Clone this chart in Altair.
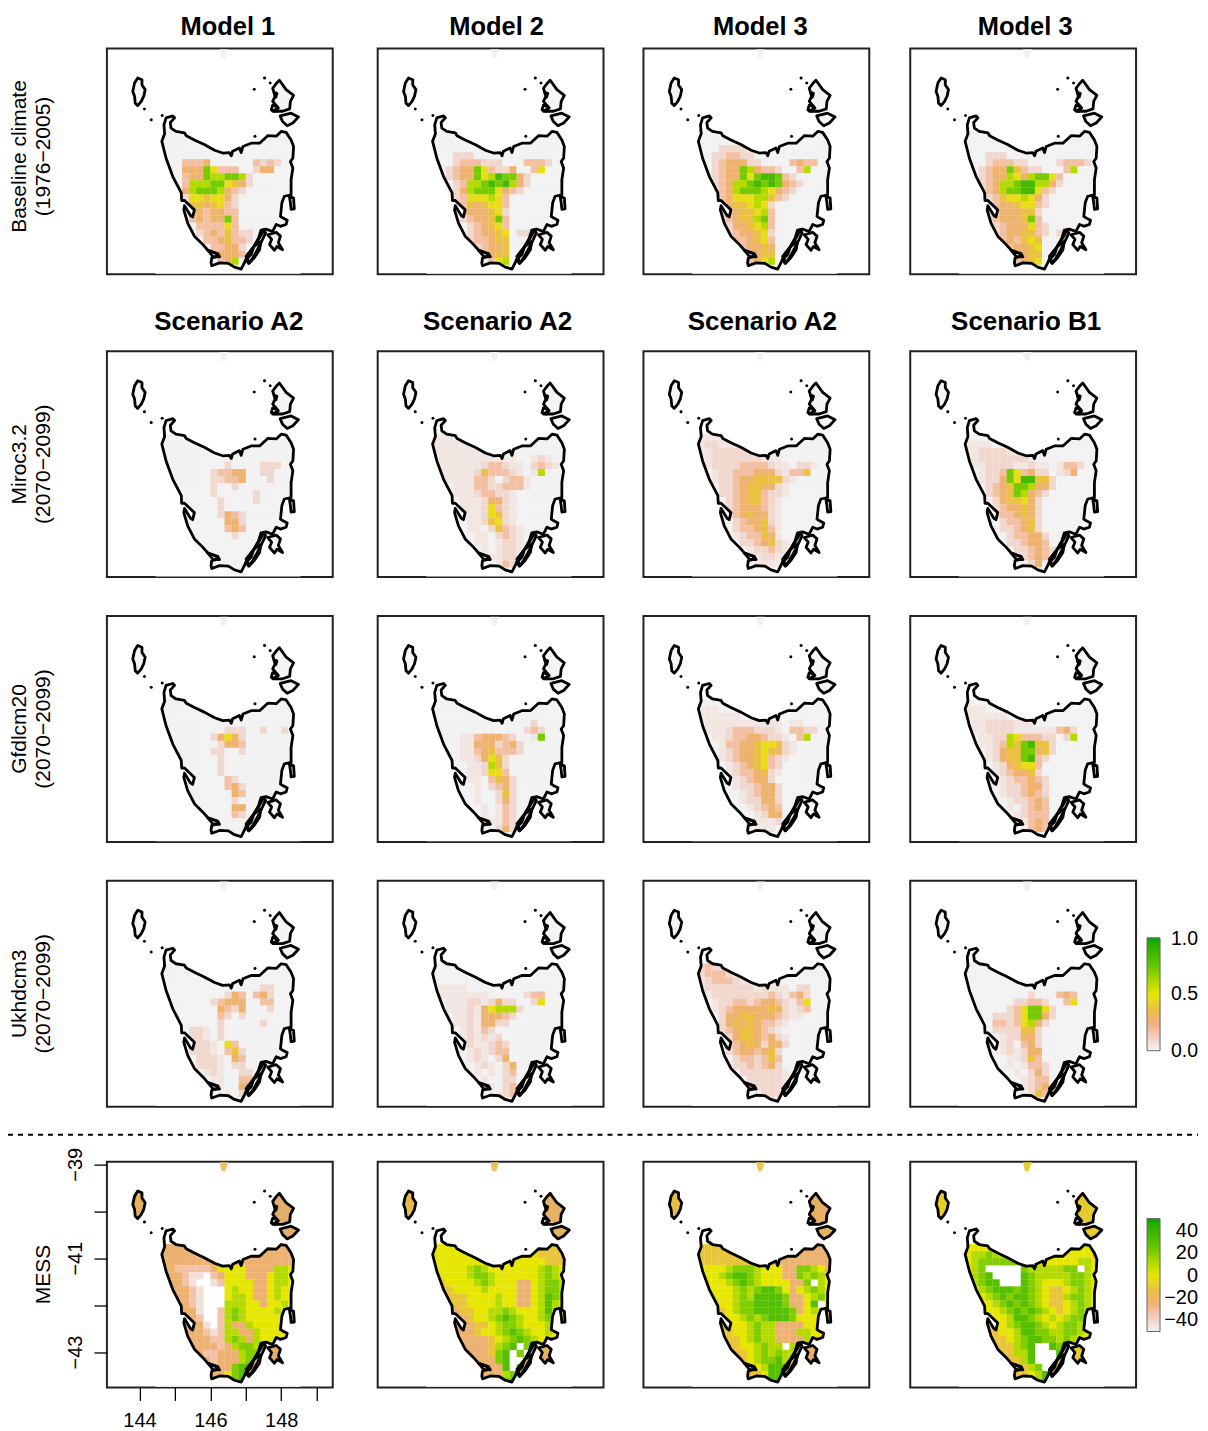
import altair as alt
import pandas as pd

FONT = "Liberation Sans"

# ---- coastline (lon, lat) ----
TAS = [(144.71,-40.76),(144.69,-40.57),(144.75,-40.42),(144.94,-40.38),(144.99,-40.42),(144.87,-40.52),(144.89,-40.64),
(145.03,-40.71),(145.27,-40.74),(145.32,-40.80),(145.55,-40.89),(145.83,-40.99),(146.12,-41.11),(146.35,-41.17),
(146.54,-41.16),(146.59,-41.23),(146.63,-41.13),(146.82,-41.06),(146.87,-41.16),(146.92,-41.03),(147.15,-40.96),
(147.39,-40.96),(147.62,-40.80),(147.86,-40.81),(148.00,-40.71),(148.14,-40.73),(148.28,-40.89),(148.35,-41.03),
(148.33,-41.28),(148.26,-41.35),(148.33,-41.49),(148.28,-41.74),(148.28,-42.06),(148.09,-42.09),(148.02,-42.23),
(147.98,-42.52),(148.04,-42.55),(148.17,-42.60),(148.14,-42.69),(147.98,-42.73),(147.86,-42.69),(147.76,-42.84),
(147.57,-42.79),(147.43,-42.81),(147.36,-42.98),(147.23,-43.16),(147.06,-43.33),(146.96,-43.51),(146.87,-43.64),
(146.68,-43.60),(146.51,-43.52),(146.26,-43.51),(146.04,-43.57),(146.02,-43.51),(146.04,-43.40),(146.23,-43.37),
(146.16,-43.31),(145.93,-43.24),(145.79,-43.12),(145.55,-42.94),(145.36,-42.66),(145.25,-42.38),(145.27,-42.29),
(145.44,-42.50),(145.50,-42.53),(145.55,-42.38),(145.27,-42.18),(145.19,-42.18),(145.18,-42.02),(144.94,-41.67),
(144.75,-41.28),(144.63,-40.92)]
TASMAN = [(147.62,-42.91),(147.86,-42.86),(147.98,-42.94),(147.92,-43.08),(148.04,-43.23),(147.88,-43.16),(147.81,-43.24),(147.67,-43.12),(147.73,-43.01)]
BRUNY = [(147.23,-43.16),(147.43,-43.05),(147.39,-43.23),(147.24,-43.40),(147.10,-43.51),(147.01,-43.37)]
BRUNY2 = [(147.01,-43.44),(147.15,-43.33),(147.23,-43.16),(147.36,-43.01),(147.51,-42.81),(147.56,-42.87),(147.43,-43.08),(147.32,-43.24),(147.20,-43.40),(147.08,-43.52)]
DAVEY = [(145.93,-43.24),(146.21,-43.31),(146.26,-43.38),(146.07,-43.37)]
FREY = [(148.23,-42.09),(148.35,-42.13),(148.37,-42.36),(148.28,-42.37),(148.26,-42.23)]
FLINDERS = [(147.95,-39.62),(148.14,-39.82),(148.35,-39.94),(148.26,-40.07),(148.24,-40.23),(148.04,-40.28),(147.76,-40.28),(147.92,-40.21),(147.76,-40.07),(147.83,-39.96),(147.76,-39.79),(147.86,-39.69)]
ISLET1 = [(147.76,-40.15),(147.88,-40.18),(147.84,-40.28),(147.72,-40.25)]
ISLET2 = [(147.80,-39.88),(147.88,-39.90),(147.85,-39.98)]
BARREN = [(147.97,-40.38),(148.28,-40.32),(148.49,-40.40),(148.33,-40.53),(148.17,-40.59),(148.04,-40.50)]
KING = [(143.95,-39.57),(144.07,-39.61),(144.07,-39.72),(144.16,-39.82),(144.12,-39.96),(144.05,-40.07),(143.95,-40.16),(143.88,-40.11),(143.86,-39.96),(143.81,-39.86),(143.86,-39.68)]
SLIVER = [(146.26,-38.96),(146.51,-38.96),(146.42,-39.15),(146.32,-39.15)]
DOT_LON = [147.53,147.69,147.24,144.14,144.33,144.64,147.26]
DOT_LAT = [-39.57,-39.68,-39.81,-40.23,-40.46,-40.37,-40.81]

# ---- suitability, one string per row from north to south, one character per 0.2 degree cell ----
P1 = ["","","","","0002223000000212100","0003337522200133000","0002337667761000000","0002666775431000000","0003677763210000000","0001554553100000000","0001443452100000000","0000332332200000000","0000232337200000000","0000022225200000000","0000012324211000000","0000002234221000000","0000000223310000000","0000000133320000000","0000000023600000000",""]
P2 = ["","","","0001110000000","0001222111000222100","00123375211300250","0012337568773100","0001266787863100","0001367775321","00012555652","00012434552","00002333451","00001233472","00000123452","00000123345011","00000122344","00000012334","00000001344","00000000256",""]
P3 = ["","","0001111","00112211000000","00123331100002322","0012337632210026","0012337578872100","0012366787873210","0012367776532100","00123555664210","000234456510","00012344562","00012344672","00011334562","00001233451","00001223452","00000123343","00000013344","00000002356",""]
P4 = ["","","","0001110","000122211000012221","0012337421100026","0012336536775200","0012366788663100","00123677885210","000124556531","000123345521","00012333441","00012333472","000012333521","00001233442101","00000232454","00000123345","00000013344","00000002345",""]
P5 = ["","","","","000000000100001110","0000000122330011","0000000112230001","00000001001","00000001000001","00000000100001","000000001","000000001321","000000000331","000000000232","00000000001","","","","",""]
P6 = ["aaa","aaaaaa","aaaaaaaaa","0aaaaaaaaaaa00a1a","0aaaaaa1221aa0121a","0aaaaa142221a0a6","00aaaa2210122a","000aaa2211222a","000aaa12211a","0000aaa1331a","0000aaa1521a","0000aaa1541a","00000aa1451a","00000aa01421a","000000aa0121a","000000aa0a11a","0000000a0a11a","00000000aa11a","000000000a21",""]
P7 = ["aaaa","a11aaaa","aa11111aaa","0a1111111aaa","0a111122221aa011a","00a112223331a224","00a1123344441a","000112344331a","000112344211a","00001234421a","00001233321a","00001234331a","00000123341a","00000122342a","00000a12243a","000000112341a","0000000a1121a","0000000aa11aa","00000000aaaa",""]
P8 = ["","aaaa","aa1111aa","0a1111111a","0aa1111aa1aa0a221","00a1127523110a13","00a1137588441","0001234776331","000123476321","00001344531","00001233431","00001223431","00000122341","00000112341","000000122331","000000112332","0000000112321","000000001232","00000000013",""]
P9 = ["","","","","000000000111001001","000000013531","000000001332","000000011001","000000001","000000001","000000001","00000000021","000000000231","000000000032","00000000001","000000000033","000000000021","","",""]
P10 = ["","","","000000000000001","0000000000000121","0000aa23332100a7","0000aa3331231","0000aa2342221","0000aa13541","00000aa1641","00000aa1552","00000aa02431","000000a01231","000000a00141","000000a00131","0000000a0a21","0000000a0a21","00000000aa21","000000000131",""]
P11 = ["","aaa","aaaaaa","0aaaaaaaaaaa0aa","0aaa1222111a02211","00aa12233211a026","000a223345541a","000a123345431a","000a12334521a","0000a1234521","0000a122341a","00000a12331","00000a112331","000000a12331","000000a11331","0000000a1232","00000000a133","00000000aaa1","00000000aaa",""]
P12 = ["","aaa","aaaaaa","0aa1111aaa","0aa1111aaaaaa231","00aa116522211016","00aa126478441","000a134477341","000a13447821","0000a134552","0000a123341","00000a122321","00000a112331","00000a112321","000000a11232","000000a01232","0000000a1222","00000000a232","000000000232",""]
P13 = ["","","","0000000000000011","0000000001320231","0000000123330022","0000000032130001","000000002101","000000001000001","000011a01","000011a01","0000111a052","0000111a0241","00000111a032","00000111a011","000000a1a0011","0000000aa0022","00000000a0033","000000000a01",""]
P14 = ["","","","0aaaa","0aaaaaaa00000122","00aaa11a13110015","00aaa1a356661","000aa1a33321","000aa1a3311","0000a1a21","0000a1a1a1","0000a1aa121","00000a1a122","00000a1a013","000000a1a013","000000a0a012","0000000a0011","00000000a012","000000000a12",""]
P15 = ["1211aaa","12221aaa","a12221aaaa","a1111111a1aaa011","0a1111111121a231","00a1122123321a25","00a1233333431a12","0001334433321aa","000134343221a","00012344321a","000013443231a","0000123431331","000012332341","000001221242","000001121231","000000111111a","000000011111a","000000001111a","000000000111",""]
P16 = ["","","","","0000000001000232","0000000112210025","0000001257751","0000111257731","000022125631","00001111441","00000a11331","00000a10231","00000a1a133","000000aa142","000000a0a221","0000000a0131","00000000a122","00000000a123","000000000142",""]

# ---- MESS, same grid ----
M1 = ["t","t","t","ttqqqqqtyyyyttttlly","tttqpp_qtyyytttylly","tttqp__pqyyyyttylly","ttttqp___ylyyttylyy","ttttqp___yllyttylyy","ttttqp___lllyytyyly","tttttp__qlmlyyyylyy","tttttq__qlmlyyyyyyy","ttttttp_qlttlyyyyyy","ttttttqpqllttlyyyyy","tttttttqqlmltlyyyyy","ttttttttqtlmmlyyyyy","ttttttqqtttlmmlyyyy","tttttttqtttlmnlyyyy","ttttttttttmnnlyyyyy","tttttttttymnnlyyyyy","tttttttttymnn"]
M2 = ["yyyyyyyyyyyyyygggg","yyyyyyyyyyyyyyygggg","yyyyyyyyyyyyyyyyggg","yyyyylmlyyyyyyylmly","gyyyylmmlyyyyyylmly","ggyyyylmlyyyttylmml","gggyyyylyyyyttylmml","gggggyyyylyyttylnml","ttgggyyyylyyttylnly","ttttggyyllmlyyylnly","tttttgyylmnmlyylmly","ttttttggylmmlyyylly","ttttttgyylmnmlyylyy","ttttttttgylmnmlyyyy","ttttttttglmn_mmlyyy","ttttttttgmn_m_mlyyy","tttttttttmn__mmly","ttttttttttn_mmn","ttttttttttlmnn","tttttttttlmnn"]
M3 = ["gggggggggggggtttttt","ggggggggggttttttttt","ggggggggggttttttttt","yyyylmmmlyyyttmmlyt","yyylmnnmlyyyttmlmly","yyyylmnmlyyyyttm_ly","gyyyylmlmnnmytylmly","ggyyylmlnnnnmttylmy","gggyylmmnnnnmttyn_y","ggggylmmnnnnnmtylyy","ggggyylmlmnnnmyyyly","ggggyyylmllttttyyyy","gggggyylmlltttllyyy","ggggggylmllttttlyyy","ggggggyylmll_lmlyyy","gggggggylmlmlllyyyy","gggggggylmmnlmmlyyy","ggggggggylnnnnmlyyy","gggggggggynnnmlyyyy","gggggggggynnn"]
M4 = ["yyyyyyyyyyyyyyyyyyy","yllmlllyyyyyyyyyyyg","ylmmmmmmllyyyyyylly","ylm_____mlllllmm_ly","ylmn____nmlllllmmly","ylmnn___nmlyyylmmly","yylmnnnmnmlyggylmly","yyylmnmnnmlygglmmly","yyyylmnmnmlyggylmly","gyyyylmnmnmlygylmly","gggyyylnnmlylylmmly","ggggyylmnnmlylmmlyy","gggggyylnnmmllmmlyy","ggggggylmnnmmlmlyyy","ggggggglmn__nmlyyyy","ggggggglln___nlyyyy","ggggggggln___nyyyyy","ggggggggglm__nnyyyy","gggggggggylnnnyyyyy","gggggggggylnn"]

HEAT_VALUE = {"0":0.0,"a":0.04,"1":0.09,"2":0.18,"3":0.27,"4":0.36,"5":0.47,"6":0.6,"7":0.72,"8":0.85,"9":1.0}
MESS_VALUE = {"p":-44,"q":-33,"t":-24,"g":-12,"y":0,"l":10,"m":20,"n":30,"d":42}

COLORS = ["#F2F2F2","#F0CEC2","#ECB176","#E8C43A","#E6E600","#63C600","#00A600"]
HEAT_STOPS = [0,0.125,0.25,0.375,0.5,0.75,1]
MESS_STOPS = [-50,-37.5,-25,-12.5,0,25,50]
HEAT_LABELS = ["1.0","0.5","0.0"]
MESS_LABELS = ["40","20","0","−20","−40"]

MODELS = ["Model 1","Model 2","Model 3","Model 3"]
SCENARIOS = ["Scenario A2","Scenario A2","Scenario A2","Scenario B1"]
ROW_LABELS = [("Baseline climate","(1976−2005)"),("Miroc3.2","(2070−2099)"),("Gfdlcm20","(2070−2099)"),("Ukhdcm3","(2070−2099)")]
HEAT_PANELS = [[P1,P2,P3,P4],[P5,P6,P7,P8],[P9,P10,P11,P12],[P13,P14,P15,P16]]
MESS_PANELS = [M1,M2,M3,M4]
MESS_KING = ["#E8B45A","#E9B84E","#E8BE42","#E6CF20"]
MESS_OTHER = ["#E3AE6C","#E6B265","#E6B065","#E6CA30"]
MESS_SLIVER = ["#EDBF70","#EDC060","#EDC850","#E8D030"]

LON0, LAT0, CELL_LON, CELL_LAT = 144.6, -40.7, 0.2, 0.15
XMIN, XMAX, YMIN, YMAX = 143.08, 149.455, -43.753, -38.945
PX_LON, PX_LAT = 35.45, 47.0
K = PX_LAT / PX_LON
PW, PH = 226, 226

def ring(pts):
    r = [[a, b * K] for a, b in pts]
    return r + [r[0]]

def area(pts):
    return sum(pts[i][0]*pts[(i+1)%len(pts)][1]-pts[(i+1)%len(pts)][0]*pts[i][1] for i in range(len(pts)))

def feat(*rings_):
    return {"type":"Feature","properties":{},"geometry":{"type":"Polygon","coordinates":[ring(r) for r in rings_]}}

EXT = [(144.45,-40.25),(148.55,-40.25),(148.55,-43.74),(144.45,-43.74)]
HOLE = TAS if area(TAS)*area(EXT) < 0 else TAS[::-1]
MASK = [feat(EXT, HOLE)]
OUT_ALL = [feat(x) for x in (TAS,TASMAN,BRUNY,BRUNY2,DAVEY,FREY,FLINDERS,ISLET1,ISLET2,BARREN,KING)]
OTHERS = [feat(x) for x in (TASMAN,BRUNY,FREY,FLINDERS,BARREN)]

PROJ = dict(type="identity", reflectY=True, scale=PX_LON, translate=[-PX_LON*XMIN, PX_LAT*YMAX])

def geo(values, **mark):
    return alt.Chart(alt.Data(values=values)).mark_geoshape(**mark).project(**PROJ)

def text(t, x, y, size, bold=False, angle=0, align="center"):
    return alt.Chart(pd.DataFrame({"t":[t]})).mark_text(fontSize=size, fontWeight="bold" if bold else "normal",
        font=FONT, color="black", angle=angle, align=align, baseline="middle").encode(
        text="t:N", x=alt.value(x), y=alt.value(y))

def cells(rows, kind):
    recs = []
    for j in range(20):
        s = rows[j] if j < len(rows) else ""
        pad = "0" if kind == "heat" else (s[-1] if s else "t")
        s = s.ljust(19, pad)
        for i, c in enumerate(s[:19]):
            if c == "_":
                continue
            v = HEAT_VALUE[c] if kind == "heat" else MESS_VALUE[c]
            recs.append({"a":round(LON0+i*CELL_LON,3),"b":round(LON0+(i+1)*CELL_LON+0.006,3),
                         "c":round(LAT0-j*CELL_LAT,3),"d":round(LAT0-(j+1)*CELL_LAT-0.005,3),"v":v})
    return pd.DataFrame(recs)

def panel(rows, kind, king="#F6F4F4", other="#F6F4F4", sliver="#F3F0F0", extra=(), legend=None, axes=False):
    stops = HEAT_STOPS if kind == "heat" else MESS_STOPS
    scale = alt.Scale(domain=stops, range=COLORS)
    xaxis = alt.Axis(values=[144,145,146,147,148,149], labelExpr="datum.value % 2 == 0 ? datum.label : ''", title=None, grid=False,
                     domain=False, tickSize=13, tickWidth=1.3, tickColor="black", labelFontSize=20, labelColor="black",
                     labelFont=FONT, labelPadding=10, labelOverlap=False, format="d") if axes else None
    yaxis = alt.Axis(values=[-39,-40,-41,-42,-43], labelExpr="datum.value % 2 != 0 ? datum.label : ''", title=None, grid=False,
                     domain=False, tickSize=13, tickWidth=1.3, tickColor="black", labelFontSize=20, labelColor="black",
                     labelFont=FONT, labelAngle=270, labelPadding=8, labelOverlap=False, format="d") if axes else None
    X = alt.X("a:Q", scale=alt.Scale(domain=[XMIN,XMAX], nice=False, zero=False), axis=xaxis)
    Y = alt.Y("c:Q", scale=alt.Scale(domain=[YMIN,YMAX], nice=False, zero=False), axis=yaxis)
    rect = alt.Chart(cells(rows, kind)).mark_rect(strokeWidth=0).encode(
        x=X, x2="b:Q", y=Y, y2="d:Q",
        fill=alt.Fill("v:Q", scale=scale, legend=legend))
    mask = geo(MASK, fill="white", stroke=None, strokeWidth=0)
    fills = [geo(OTHERS, fill=other, strokeWidth=0),
             geo([feat(KING)], fill=king, strokeWidth=0),
             geo([feat(SLIVER)], fill=sliver, strokeWidth=0)]
    outline = geo(OUT_ALL, fill=None, filled=False, stroke="black", strokeWidth=2.8, strokeJoin="round")
    dots = alt.Chart(pd.DataFrame({"a":DOT_LON,"c":DOT_LAT})).mark_circle(size=9, color="black", opacity=1).encode(x=X, y=Y)
    return alt.layer(rect, mask, *fills, outline, dots, *extra).properties(
        width=PW, height=PH, view=alt.ViewBackground(stroke="#222222", strokeWidth=2))

def spacer(w, h):
    return alt.Chart(pd.DataFrame({"a":[]})).mark_point(opacity=0).properties(width=w, height=h)

COL_W = [226,45,226,40,227,40,226]
ROW_H = [226,77,226,39,226,39,226,55,226]

def bar_legend():
    return alt.Legend(orient="none", legendX=237, legendY=57, title=None, type="gradient", direction="vertical",
                      gradientLength=113, gradientThickness=13, gradientStrokeColor="#666666", gradientStrokeWidth=1,
                      labelExpr="''", labelFontSize=1, labelOpacity=0)

grid = {}
for r in range(4):
    for c in range(4):
        extra = []
        if r == 0:
            extra.append(text(MODELS[c], [121,119,117,115][c], -22, 25.5, True))
        if r == 1:
            extra.append(text(SCENARIOS[c], [122,120,119,116][c], -29, 26, True))
        if c == 0:
            extra.append(text(ROW_LABELS[r][0], -87, 108 if r == 0 else 113, 21, False, 270))
            extra.append(text(ROW_LABELS[r][1], -63, 108 if r == 0 else 113, 21, False, 270))
        legend = None
        if r == 3 and c == 3:
            legend = bar_legend()
            for lab, y in zip(HEAT_LABELS, [58, 113, 170]):
                extra.append(text(lab, 288, y, 19.5, align="right"))
        grid[(r,c)] = panel(HEAT_PANELS[r][c], "heat", extra=extra, legend=legend)
for c in range(4):
    extra = []
    legend = None
    if c == 0:
        extra.append(text("MESS", -63, 113, 21, False, 270))
        extra.append(alt.Chart(pd.DataFrame({"a":[0]})).mark_rule(color="black", strokeWidth=2, strokeDash=[5,5]).encode(
            x=alt.value(-99), x2=alt.value(1092), y=alt.value(-27)))
    if c == 3:
        legend = bar_legend()
        for lab, y in zip(MESS_LABELS, [69, 91, 114, 136, 159]):
            extra.append(text(lab, 288, y, 20, align="right"))
    grid[(4,c)] = panel(MESS_PANELS[c], "mess", king=MESS_KING[c], other=MESS_OTHER[c], sliver=MESS_SLIVER[c],
                        extra=extra, legend=legend, axes=(c == 0))

views = []
for ri, h in enumerate(ROW_H):
    for ci, w in enumerate(COL_W):
        if ri % 2 == 0 and ci % 2 == 0:
            views.append(grid[(ri//2, ci//2)])
        else:
            views.append(spacer(w, h))

chart = alt.concat(*views, columns=7, spacing=0, bounds="flush").resolve_scale(
    fill="independent", x="independent", y="independent"
).properties(padding={"left":-2,"top":5,"right":0,"bottom":0}).configure_view(stroke=None)

chart.save("out.html", embed_options={"renderer":"svg","actions":False})
